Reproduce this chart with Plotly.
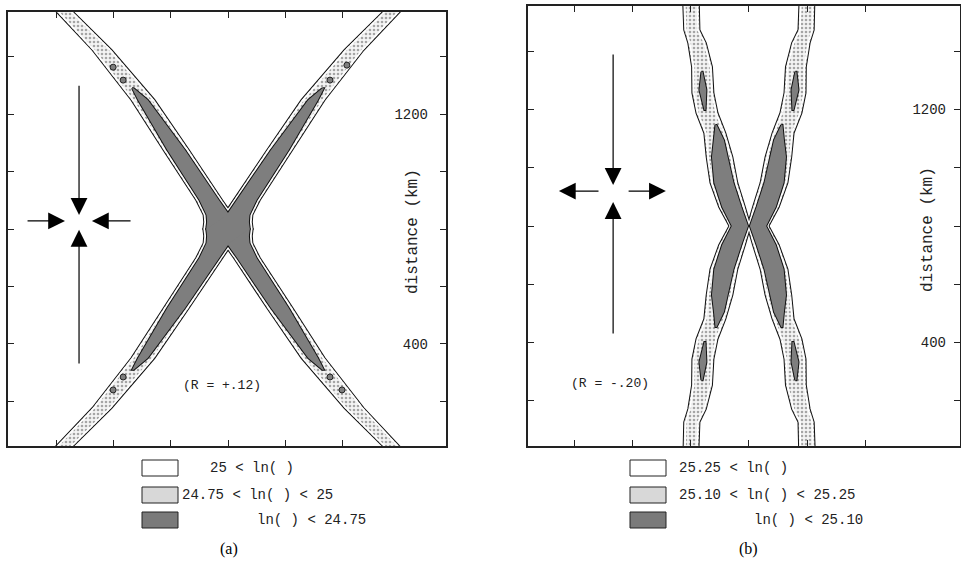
import plotly.graph_objects as go

# ---------------- data (km) ----------------
# Panel (a): arms of the X, each running from the frame edge to the crossing (800, 800)
a_y_up = [1620, 1555, 1423, 1249, 1075, 901, 849, 824, 800]
a_y_dn = [-20, 45, 177, 351, 525, 699, 751, 776, 800]
a_x_tl = [167, 231, 360, 503, 619, 734, 765, 783, 800]
a_x_tr = [1433, 1369, 1240, 1097, 981, 866, 835, 817, 800]
a_x_bl = [167, 231, 360, 503, 619, 734, 765, 783, 800]
a_x_br = [1433, 1369, 1240, 1097, 981, 866, 835, 817, 800]
a_hw_light = [28, 28, 33, 40, 44, 45, 50, 66, 86]

a_dark_y_up = [1290, 1249, 1075, 901, 849, 824, 800]
a_dark_y_dn = [310, 351, 525, 699, 751, 776, 800]
a_dark_x_tl = [468, 503, 619, 734, 765, 783, 800]
a_dark_x_tr = [1132, 1097, 981, 866, 835, 817, 800]
a_dark_x_bl = [468, 503, 619, 734, 765, 783, 800]
a_dark_x_br = [1132, 1097, 981, 866, 835, 817, 800]
a_hw_dark = [3, 17, 31, 34, 40, 56, 76]

a_dot_x = [399, 434, 1156, 1215, 434, 399, 1156, 1198]
a_dot_y = [1363, 1318, 1318, 1370, 285, 240, 285, 240]

# Panel (b): two bands bowing towards each other and touching at the centre
b_y_up = [1600, 1555, 1473, 1428, 1346, 1257, 1188, 1119, 1037, 948, 865, 800]
b_y_dn = [0, 45, 127, 172, 254, 343, 412, 481, 563, 652, 735, 800]
b_x_tl = [601, 601, 604, 622, 639, 642, 656, 683, 699, 714, 742, 769]
b_x_bl = [601, 601, 604, 622, 639, 642, 656, 683, 699, 714, 742, 769]
b_x_tr = [999, 999, 996, 978, 961, 958, 944, 917, 901, 886, 858, 831]
b_x_br = [999, 999, 996, 978, 961, 958, 944, 917, 901, 886, 858, 831]
b_hw_light = [26, 26, 26, 30, 34, 36, 36, 36, 44, 46, 44, 36]

b_lens_y_up = [1329, 1267, 1198]
b_lens_y_dn = [271, 333, 402]
b_lens_x_l = [639, 642, 649]
b_lens_x_r = [961, 958, 951]
b_lens_hw = [2, 12, 2]

b_dark_y_up = [1147, 1095, 1037, 948, 865, 800]
b_dark_y_dn = [453, 505, 563, 652, 735, 800]
b_dark_x_l = [687, 697, 700, 714, 741, 769]
b_dark_x_r = [913, 903, 900, 886, 859, 831]
b_hw_dark = [2, 17, 27, 33, 33, 28]

tick_vals = [200, 400, 600, 800, 1000, 1200, 1400]
tick_text = ["", "400", "", "", "", "1200", ""]

legend_a = ["25 < ln( )", "24.75 < ln( ) < 25", "ln( ) < 24.75"]
legend_b = ["25.25 < ln( )", "25.10 < ln( ) < 25.25", "ln( ) < 25.10"]

MONO = "Liberation Mono, Courier New, monospace"
SERIF = "Liberation Serif, Times New Roman, serif"
LIGHT_PAT = dict(shape=".", bgcolor="#f4f4f4", fgcolor="#555555", size=4, solidity=0.33)
DARK = "#7e7e7e"


def branch(x_up, y_up, x_dn, y_dn, hw):
    """Join an upper arm and a lower arm through the centre into one band."""
    xc = list(x_up) + list(x_dn[::-1][1:])
    yc = list(y_up) + list(y_dn[::-1][1:])
    hh = list(hw) + list(hw[::-1][1:])
    return xc, yc, hh


def polygon(xc, yc, hw, shrink=0):
    xs = [x - max(h - shrink, 0.5) for x, h in zip(xc, hw)] + \
         [x + max(h - shrink, 0.5) for x, h in zip(xc[::-1], hw[::-1])]
    ys = list(yc) + list(yc[::-1])
    return xs + [xs[0]], ys + [ys[0]]


fig = go.Figure()


def draw_layer(bands, kind, xa, ya):
    # pass 1: fill + outline ; pass 2: fill only, so inner outlines of overlaps vanish
    for outline in (True, False):
        for xc, yc, hw in bands:
            xs, ys = polygon(xc, yc, hw)
            kw = dict(x=xs, y=ys, mode="lines", fill="toself", xaxis=xa, yaxis=ya,
                      showlegend=False, hoverinfo="skip")
            if outline:
                kw["line"] = dict(color="#111111", width=2)
            else:
                kw["line"] = dict(color="rgba(0,0,0,0)", width=0)
            if kind == "light":
                kw["fillcolor"] = "#f4f4f4"
                kw["fillpattern"] = LIGHT_PAT
            else:
                kw["fillcolor"] = DARK
            fig.add_trace(go.Scatter(**kw))
    if kind == "light":
        # thin white strip just inside the outer contour
        for xc, yc, hw in bands:
            xs, ys = polygon(xc, yc, hw, shrink=5)
            fig.add_trace(go.Scatter(x=xs, y=ys, mode="lines", xaxis=xa, yaxis=ya,
                                     line=dict(color="white", width=1.5),
                                     showlegend=False, hoverinfo="skip"))


# panel (a)
a_light = [branch(a_x_tl, a_y_up, a_x_br, a_y_dn, a_hw_light),
           branch(a_x_tr, a_y_up, a_x_bl, a_y_dn, a_hw_light)]
a_dark = [branch(a_dark_x_tl, a_dark_y_up, a_dark_x_br, a_dark_y_dn, a_hw_dark),
          branch(a_dark_x_tr, a_dark_y_up, a_dark_x_bl, a_dark_y_dn, a_hw_dark)]
draw_layer(a_light, "light", "x", "y")
draw_layer(a_dark, "dark", "x", "y")
fig.add_trace(go.Scatter(x=a_dot_x, y=a_dot_y, mode="markers",
                         marker=dict(size=6, color=DARK, line=dict(color="#222", width=1)),
                         xaxis="x", yaxis="y", showlegend=False, hoverinfo="skip"))

# panel (b)
b_light = [branch(b_x_tl, b_y_up, b_x_bl, b_y_dn, b_hw_light),
           branch(b_x_tr, b_y_up, b_x_br, b_y_dn, b_hw_light)]
b_dark = [branch(b_dark_x_l, b_dark_y_up, b_dark_x_l, b_dark_y_dn, b_hw_dark),
          branch(b_dark_x_r, b_dark_y_up, b_dark_x_r, b_dark_y_dn, b_hw_dark),
          (b_lens_x_l, b_lens_y_up, b_lens_hw), (b_lens_x_r, b_lens_y_up, b_lens_hw),
          (b_lens_x_l, b_lens_y_dn, b_lens_hw), (b_lens_x_r, b_lens_y_dn, b_lens_hw)]
draw_layer(b_light, "light", "x2", "y2")
draw_layer(b_dark, "dark", "x2", "y2")

W, H = 961, 562
axis_common = dict(showgrid=False, zeroline=False, showline=True, linecolor="#222",
                   linewidth=1.6, mirror="ticks", ticks="inside", ticklen=6,
                   tickcolor="#222", tickwidth=1, tickvals=tick_vals)
yfont = dict(family=MONO, size=14, color="#222")

fig.update_layout(
    width=W, height=H, margin=dict(l=0, r=0, t=0, b=0),
    paper_bgcolor="white", plot_bgcolor="white",
    xaxis=dict(domain=[8 / W, 446 / W], range=[32, 1561], showticklabels=False, **axis_common),
    yaxis=dict(domain=[1 - 446 / H, 1 - 12 / H], range=[45, 1555], side="right",
               ticktext=tick_text, ticklabelposition="inside", ticklabelstandoff=12,
               tickfont=yfont, **axis_common),
    xaxis2=dict(domain=[528 / W, 960 / W], range=[42, 1524], showticklabels=False,
                anchor="y2", **axis_common),
    yaxis2=dict(domain=[1 - 446 / H, 1 - 6 / H], range=[45, 1555], side="right",
                anchor="x2", ticktext=tick_text, ticklabelposition="inside",
                ticklabelstandoff=8, tickfont=yfont, **axis_common),
)

ann = []
shapes = []


def arrow(xr, yr, x, y, ax, ay):
    ann.append(dict(xref=xr, yref=yr, axref=xr, ayref=yr, x=x, y=y, ax=ax, ay=ay,
                    text="", showarrow=True, arrowhead=2, arrowsize=2.8,
                    arrowwidth=1.2, arrowcolor="black"))


# arrows (a): compression on both axes
arrow("x", "y", 280, 849, 280, 1304)
arrow("x", "y", 280, 797, 280, 327)
arrow("x", "y", 231, 828, 95, 828)
arrow("x", "y", 325, 828, 465, 828)
# arrows (b): vertical compression, horizontal extension
arrow("x2", "y2", 334, 941, 334, 1394)
arrow("x2", "y2", 334, 882, 334, 426)
arrow("x2", "y2", 148, 920, 289, 920)
arrow("x2", "y2", 515, 920, 382, 920)

ann.append(dict(xref="x", yref="y", x=779, y=257, text="(R = +.12)", showarrow=False,
                yanchor="middle", font=dict(family=MONO, size=13, color="#222")))
ann.append(dict(xref="x2", yref="y2", x=323, y=261, text="(R = -.20)", showarrow=False,
                yanchor="middle", font=dict(family=MONO, size=13, color="#222")))

for px, py in [(413, 232), (928, 230)]:
    ann.append(dict(xref="paper", yref="paper", x=px / W, y=1 - py / H, text="distance (km)",
                    textangle=-90, showarrow=False, xanchor="center", yanchor="middle",
                    font=dict(family=MONO, size=16, color="#222")))

rows_y = [468, 495, 520]
box_fill = ["white", "#d8d8d8", "#7a7a7a"]
for bx, labels, tx in [(142, legend_a, [(208, "left"), (180, "left"), (368, "right")]),
                       (630, legend_b, [(677, "left"), (677, "left"), (865, "right")])]:
    for i, ry in enumerate(rows_y):
        shapes.append(dict(type="rect", xref="paper", yref="paper",
                           x0=bx / W, x1=(bx + 36) / W,
                           y0=1 - (ry + 8) / H, y1=1 - (ry - 8) / H,
                           fillcolor=box_fill[i], line=dict(color="#222", width=1)))
        ann.append(dict(xref="paper", yref="paper", x=tx[i][0] / W, y=1 - ry / H,
                        text=labels[i], showarrow=False, xanchor=tx[i][1], yanchor="middle",
                        font=dict(family=MONO, size=14, color="#222")))

ann.append(dict(xref="paper", yref="paper", x=229 / W, y=1 - 549 / H, text="(a)", showarrow=False,
                xanchor="center", yanchor="middle", font=dict(family=SERIF, size=16, color="black")))
ann.append(dict(xref="paper", yref="paper", x=748 / W, y=1 - 549 / H, text="(b)", showarrow=False,
                xanchor="center", yanchor="middle", font=dict(family=SERIF, size=16, color="black")))

fig.update_layout(annotations=ann, shapes=shapes)
fig.write_html("out.html")
